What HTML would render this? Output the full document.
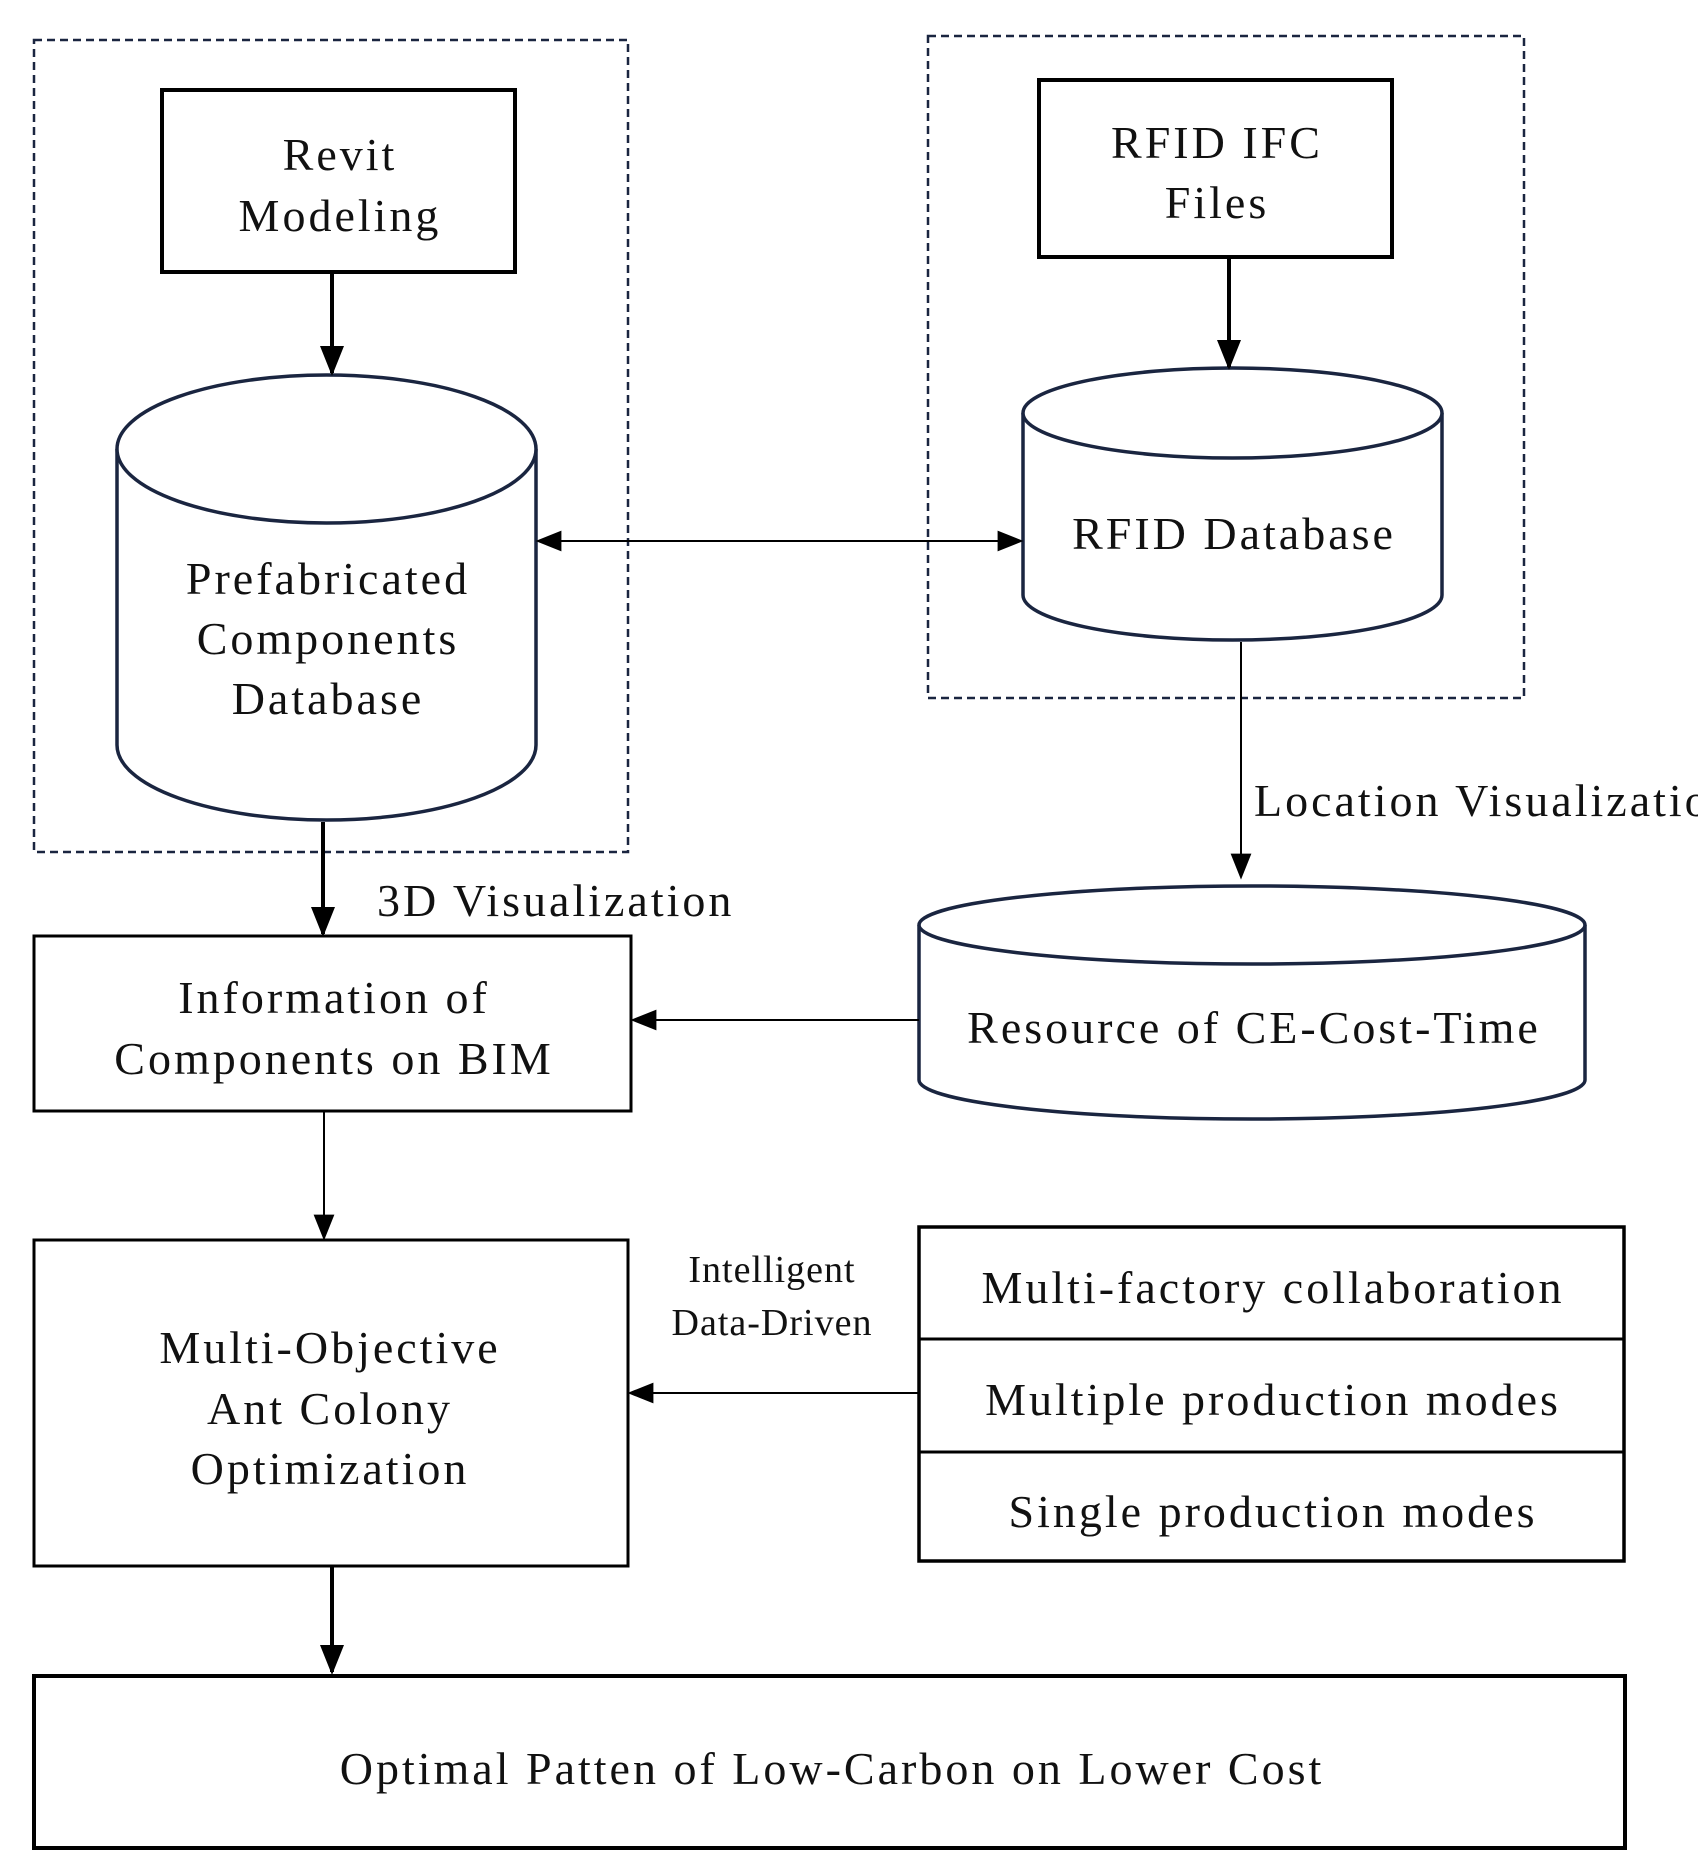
<!DOCTYPE html>
<html><head><meta charset="utf-8"><style>
html,body{margin:0;padding:0;background:#fff}
svg{display:block}
text{font-family:"Liberation Serif",serif;font-size:46px;letter-spacing:3px;fill:#111;text-anchor:middle}
</style></head><body>
<svg width="1698" height="1875" viewBox="0 0 1698 1875" xmlns="http://www.w3.org/2000/svg">
<defs>
<marker id="b" viewBox="0 0 10 10" refX="9" refY="5" markerWidth="26" markerHeight="26" orient="auto-start-reverse" markerUnits="userSpaceOnUse"><path d="M0,1 L10,5 L0,9 z" fill="#000"/></marker>
<marker id="c" viewBox="0 0 10 10" refX="9" refY="5" markerWidth="30" markerHeight="30" orient="auto" markerUnits="userSpaceOnUse"><path d="M0,1 L10,5 L0,9 z" fill="#000"/></marker>
</defs>
<g fill="none" stroke="#1a2540" stroke-width="2.5" stroke-dasharray="8,5">
<rect x="34" y="40" width="594" height="812"/>
<rect x="928" y="36" width="596" height="662"/>
</g>
<g fill="#fff" stroke="#000" stroke-width="4">
<rect x="162" y="90" width="353" height="182"/>
<rect x="1039" y="80" width="353" height="177"/>
<rect x="34" y="936" width="597" height="175" stroke-width="3"/>
<rect x="34" y="1240" width="594" height="326" stroke-width="3"/>
<rect x="919" y="1227" width="705" height="334" stroke-width="3.5"/>
<rect x="34" y="1676" width="1591" height="172" stroke-width="4"/>
</g>
<g stroke="#000" stroke-width="3"><line x1="919" y1="1339" x2="1624" y2="1339"/><line x1="919" y1="1452" x2="1624" y2="1452"/></g>
<g fill="#fff" stroke="#1a2540" stroke-width="3.5">
<path d="M117,449 V745 A209.5,75 0 0 0 536,745 V449"/>
<ellipse cx="326.5" cy="449" rx="209.5" ry="74"/>
<path d="M1023,413 V595 A209.5,45 0 0 0 1442,595 V413"/>
<ellipse cx="1232.5" cy="413" rx="209.5" ry="45"/>
<path d="M919,925 V1080 A333,39 0 0 0 1585,1080 V925"/>
<ellipse cx="1252" cy="925" rx="333" ry="39"/>
</g>
<g stroke="#000" fill="none">
<line x1="332" y1="272" x2="332" y2="373" stroke-width="4" marker-end="url(#c)"/>
<line x1="1229" y1="257" x2="1229" y2="367" stroke-width="4" marker-end="url(#c)"/>
<line x1="538" y1="541" x2="1021" y2="541" stroke-width="2" marker-start="url(#b)" marker-end="url(#b)"/>
<line x1="1241" y1="642" x2="1241" y2="877" stroke-width="2" marker-end="url(#b)"/>
<line x1="323" y1="822" x2="323" y2="934" stroke-width="4" marker-end="url(#c)"/>
<line x1="919" y1="1020" x2="633" y2="1020" stroke-width="2" marker-end="url(#b)"/>
<line x1="324" y1="1111" x2="324" y2="1238" stroke-width="2" marker-end="url(#b)"/>
<line x1="919" y1="1393" x2="630" y2="1393" stroke-width="2" marker-end="url(#b)"/>
<line x1="332" y1="1566" x2="332" y2="1672" stroke-width="4" marker-end="url(#c)"/>
</g>
<text x="340" y="170">Revit</text>
<text x="340" y="231">Modeling</text>
<text x="1217" y="158">RFID IFC</text>
<text x="1217" y="218">Files</text>
<text x="328" y="594">Prefabricated</text>
<text x="328" y="654">Components</text>
<text x="328" y="714">Database</text>
<text x="1234" y="549">RFID Database</text>
<text x="1254" y="816" style="text-anchor:start">Location Visualization</text>
<text x="377" y="916" style="text-anchor:start">3D Visualization</text>
<text x="334" y="1013">Information of</text>
<text x="334" y="1074">Components on BIM</text>
<text x="1254" y="1043">Resource of CE-Cost-Time</text>
<text x="330" y="1363">Multi-Objective</text>
<text x="330" y="1424">Ant Colony</text>
<text x="330" y="1484">Optimization</text>
<text x="772" y="1282" style="font-size:38px;letter-spacing:1px">Intelligent</text>
<text x="772" y="1335" style="font-size:38px;letter-spacing:1px">Data-Driven</text>
<text x="1273" y="1303">Multi-factory collaboration</text>
<text x="1273" y="1415">Multiple production modes</text>
<text x="1273" y="1527">Single production modes</text>
<text x="832" y="1784">Optimal Patten of Low-Carbon on Lower Cost</text>
</svg>
</body></html>
